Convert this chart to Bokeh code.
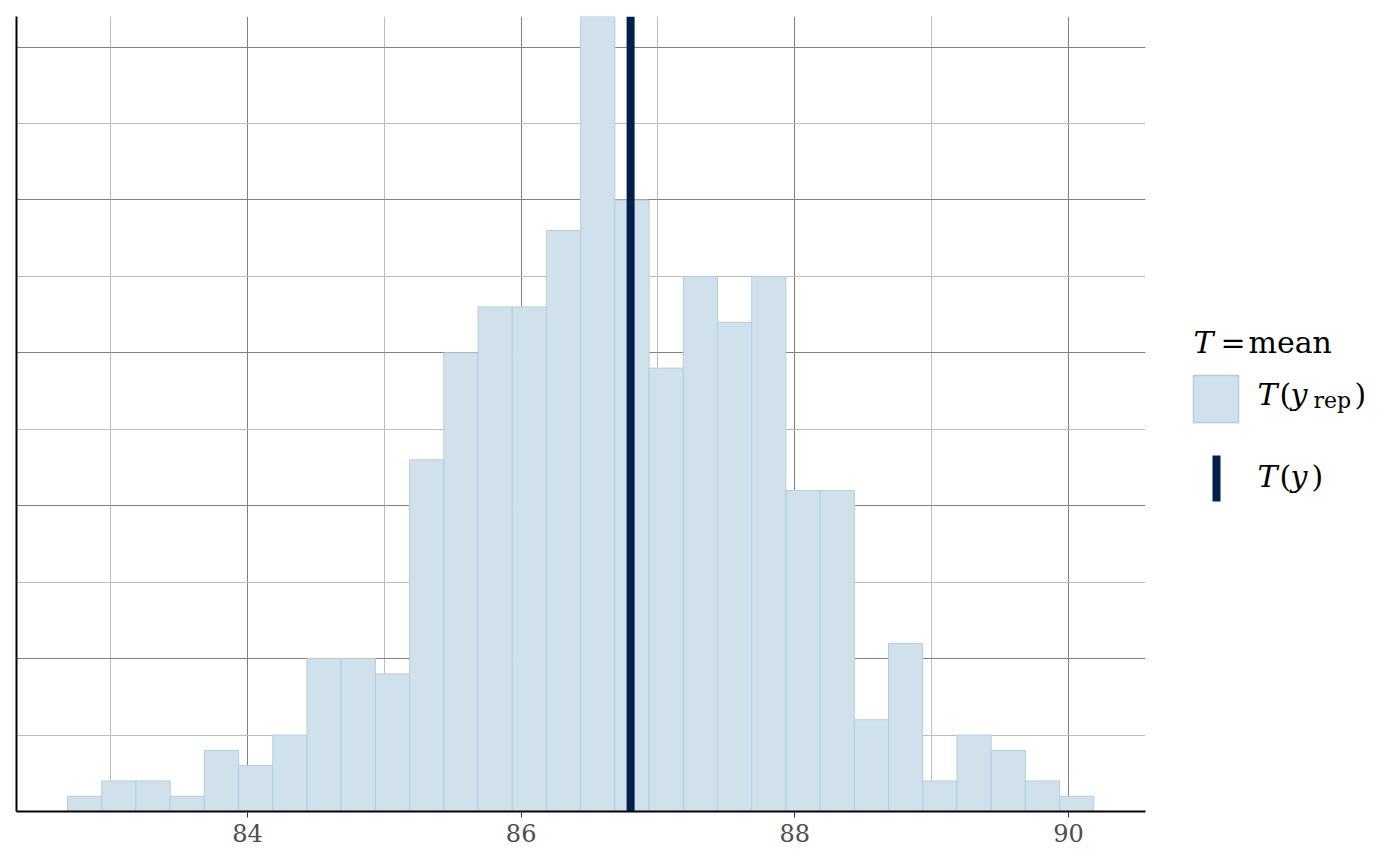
from bokeh.plotting import figure
from bokeh.models import Range1d, FixedTicker, Span
from bokeh.layouts import row
from bokeh.core.properties import value
from bokeh.embed import file_html
from bokeh.resources import INLINE
import numpy as np

# histogram of T(yrep) = mean, 30 bins of width 0.25
bin_start = 82.685
bin_width = 0.25
counts = [1, 2, 2, 1, 4, 3, 5, 10, 10, 9,
          23, 30, 33, 33, 38, 52, 40, 29, 35, 32,
          35, 21, 21, 6, 11, 2, 5, 4, 2, 1]
t_y = 86.80  # observed mean

x_ticks = [84, 86, 88, 90]
x_minor = [83, 85, 87, 89]
y_ticks = [0, 10, 20, 30, 40, 50]
y_minor = [5, 15, 25, 35, 45]

light = "#d1e1ec"
light_hl = "#b3cde0"
dark = "#011f4b"
FONT = "DejaVu Serif"

left = bin_start + bin_width * np.arange(len(counts))
right = left + bin_width

p = figure(width=1150, height=858, x_range=Range1d(82.312, 90.563), y_range=Range1d(0, 52),
           output_backend="svg", toolbar_location=None,
           min_border_left=16, min_border_top=16, min_border_right=5, min_border_bottom=47)
p.outline_line_color = None

p.quad(left=left, right=right, bottom=0, top=counts, fill_color=light, line_color=light_hl, line_width=1)
p.add_layout(Span(location=t_y, dimension="height", line_color=dark, line_width=8))

xt = FixedTicker(ticks=x_ticks, minor_ticks=x_minor)
yt = FixedTicker(ticks=y_ticks, minor_ticks=y_minor)
p.xaxis.ticker = xt
p.xgrid.ticker = xt
p.yaxis.ticker = FixedTicker(ticks=[], minor_ticks=[])  # no y labels, grid only
p.ygrid.ticker = yt
for g in (p.xgrid, p.ygrid):
    g.grid_line_color = "#808080"
    g.grid_line_width = 1
    g.minor_grid_line_color = "#bdbdbd"
    g.minor_grid_line_width = 1

p.xaxis.axis_line_width = 2
p.xaxis.axis_line_color = "black"
p.xaxis.major_tick_line_color = "#333333"
p.xaxis.major_tick_in = 0
p.xaxis.major_tick_out = 6
p.xaxis.minor_tick_line_color = None
p.xaxis.major_label_text_font = FONT
p.xaxis.major_label_text_font_size = "24px"
p.xaxis.major_label_text_color = "#4d4d4d"
p.xaxis.major_label_standoff = 6

p.yaxis.axis_line_width = 2
p.yaxis.axis_line_color = "black"
p.yaxis.major_tick_in = 0
p.yaxis.major_tick_out = 0
p.yaxis.major_label_standoff = 0

# legend panel; its frame spans page y 16..811, so ranges are page pixels
lg = figure(width=242, height=858, x_range=Range1d(1150, 1392), y_range=Range1d(811, 16),
            output_backend="svg", toolbar_location=None, x_axis_type=None, y_axis_type=None,
            min_border_left=0, min_border_right=0, min_border_top=16, min_border_bottom=47)
lg.outline_line_color = None
lg.grid.visible = False

lg.rect(x=[1215.5], y=[398.5], width=45, height=47, fill_color=light, line_color=light_hl, line_width=1.5)
lg.rect(x=[1216], y=[478], width=8, height=46, fill_color=dark, line_color=None)

def txt(xs, ys, texts, size, style="normal"):
    lg.text(x=xs, y=ys, text=texts, text_font=value(FONT), text_font_size=size,
            text_font_style=style, text_color="black", text_baseline="alphabetic", text_align="left")

# title: T = mean
txt([1193], [342], ["T"], "30px", "italic")
txt([1220, 1248], [342, 342], ["=", "mean"], "30px")
# T(y_rep)
txt([1257, 1290], [394, 394], ["T", "y"], "30px", "italic")
txt([1279, 1354], [394, 394], ["(", ")"], "30px")
txt([1313], [400], ["rep"], "22px")
# T(y)
txt([1257, 1290], [476, 476], ["T", "y"], "30px", "italic")
txt([1279, 1311], [476, 476], ["(", ")"], "30px")

layout = row(p, lg)
open("out.html", "w").write(file_html(layout, INLINE))
